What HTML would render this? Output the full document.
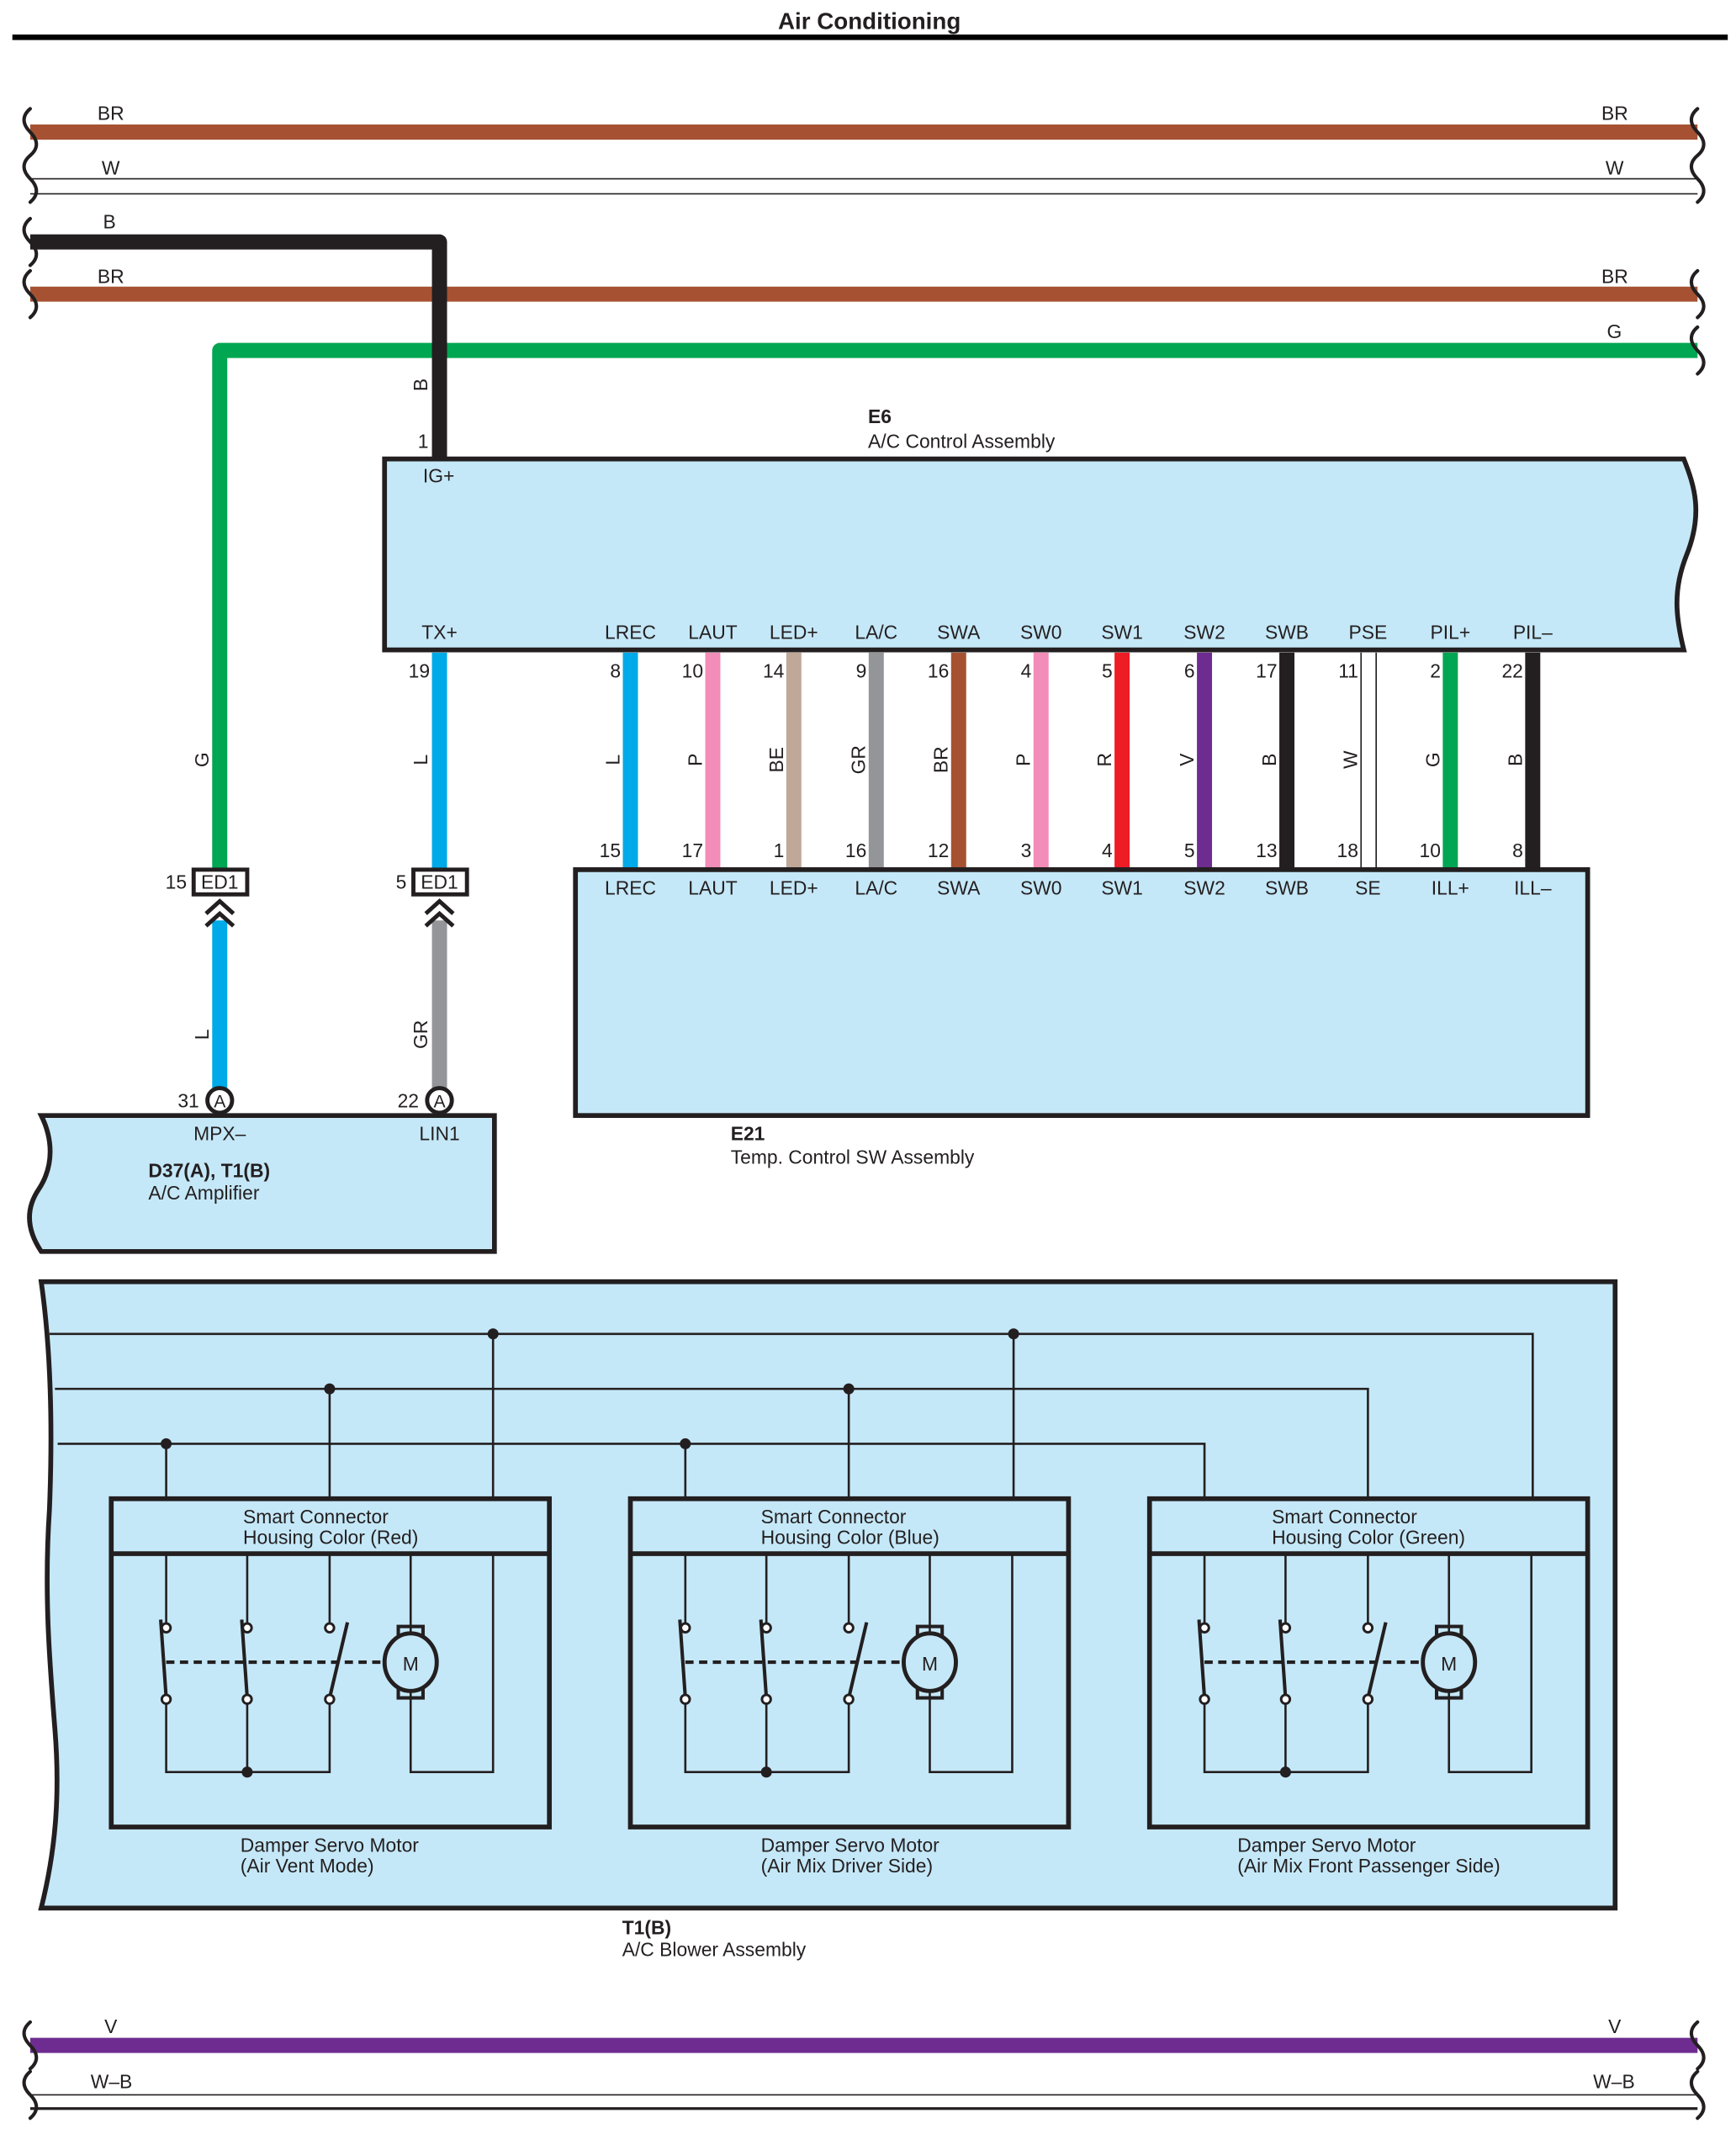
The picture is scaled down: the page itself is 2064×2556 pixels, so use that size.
<!DOCTYPE html>
<html><head><meta charset="utf-8"><style>
html,body{margin:0;padding:0;background:#fff}
svg{display:block}
text{font-family:"Liberation Sans",sans-serif;font-size:14px;fill:#231f20}
.b{font-weight:bold}
</style></head><body>
<svg width="2064" height="2556" viewBox="0 0 1264 1565" xmlns="http://www.w3.org/2000/svg">
<defs>
<g id="brk"><path d="M0,-17 c-6,5 -6,11 0,17 c6,6 6,12 0,17" fill="none" stroke="#231f20" stroke-width="2.5" stroke-linecap="round"/></g>
<g id="mot" fill="none" stroke="#231f20">
 <rect x="81" y="1091" width="319" height="239" stroke-width="3.5"/>
 <line x1="81" y1="1131" x2="400" y2="1131" stroke-width="3.5"/>
 <g stroke-width="1.6">
  <path d="M121,1131V1185M180,1131V1185M240,1131V1185M299,1131V1192M359,1131V1290H299V1229"/>
  <path d="M121,1237V1290H240V1237M180,1237V1290"/>
 </g>
 <g stroke-width="2.5">
  <line x1="117" y1="1179" x2="121" y2="1236"/>
  <line x1="176" y1="1179" x2="180" y2="1236"/>
  <line x1="253" y1="1181" x2="240" y2="1236"/>
 </g>
 <line x1="121" y1="1210" x2="280" y2="1210" stroke-width="2.5" stroke-dasharray="6,4"/>
 <g stroke-width="1.8" fill="#fff">
  <circle cx="121" cy="1185" r="3.2"/><circle cx="180" cy="1185" r="3.2"/><circle cx="240" cy="1185" r="3.2"/>
  <circle cx="121" cy="1237" r="3.2"/><circle cx="180" cy="1237" r="3.2"/><circle cx="240" cy="1237" r="3.2"/>
 </g>
 <rect x="290" y="1184" width="18" height="52" stroke-width="2.5"/>
 <ellipse cx="299" cy="1210" rx="19" ry="21" fill="#c5e8f8" stroke-width="3"/>
 <circle cx="180" cy="1290" r="4" fill="#231f20" stroke="none"/>
 <text x="299" y="1216" text-anchor="middle" stroke="none" fill="#231f20">M</text>
</g>
</defs>

<text x="633" y="21" text-anchor="middle" class="b" style="font-size:17px">Air Conditioning</text>
<rect x="9" y="25" width="1249" height="4" fill="#000"/>

<!-- top harness -->
<line x1="22" y1="96" x2="1236" y2="96" stroke="#a65232" stroke-width="11"/>
<line x1="22" y1="130" x2="1236" y2="130" stroke="#231f20" stroke-width="1"/>
<line x1="22" y1="141" x2="1236" y2="141" stroke="#231f20" stroke-width="1"/>
<line x1="22" y1="214" x2="1236" y2="214" stroke="#a65232" stroke-width="11"/>
<path d="M1236,255H160V633" fill="none" stroke="#00a651" stroke-width="11" stroke-linejoin="round"/>
<path d="M22,176H320V334" fill="none" stroke="#231f20" stroke-width="11" stroke-linejoin="round"/>
<use href="#brk" x="22" y="96"/><use href="#brk" x="22" y="130"/><use href="#brk" x="22" y="176"/><use href="#brk" x="22" y="214"/>
<use href="#brk" x="1236" y="96"/><use href="#brk" x="1236" y="130"/><use href="#brk" x="1236" y="214"/><use href="#brk" x="1236" y="255"/>
<text x="71" y="87">BR</text><text x="74" y="127">W</text><text x="75" y="166">B</text><text x="71" y="206">BR</text>
<text x="1166" y="87">BR</text><text x="1169" y="127">W</text><text x="1166" y="206">BR</text><text x="1170" y="246">G</text>
<text transform="translate(311,280) rotate(-90)" text-anchor="middle">B</text>
<text x="312" y="326" text-anchor="end">1</text>
<text transform="translate(152,553) rotate(-90)" text-anchor="middle">G</text>

<!-- E6 -->
<text x="632" y="308" class="b">E6</text>
<text x="632" y="326">A/C Control Assembly</text>
<path d="M280,334H1226c8,20 14,40 2,70c-10,25 -8,45 -2,69H280Z" fill="#c5e8f8" stroke="#231f20" stroke-width="3.5"/>
<text x="308" y="351">IG+</text>
<text x="320" y="465" text-anchor="middle">TX+</text>

<!-- TX wire -->
<line x1="320" y1="475" x2="320" y2="633" stroke="#00a9e8" stroke-width="11"/>
<text x="313" y="493" text-anchor="end">19</text>
<text transform="translate(311,553) rotate(-90)" text-anchor="middle">L</text>

<!-- pins -->
<g text-anchor="middle">
<text x="459" y="465">LREC</text><text x="519" y="465">LAUT</text><text x="578" y="465">LED+</text><text x="638" y="465">LA/C</text><text x="698" y="465">SWA</text><text x="758" y="465">SW0</text><text x="817" y="465">SW1</text><text x="877" y="465">SW2</text><text x="937" y="465">SWB</text><text x="996" y="465">PSE</text><text x="1056" y="465">PIL+</text><text x="1116" y="465">PIL–</text>
</g>
<g stroke-width="11">
<line x1="459" y1="475" x2="459" y2="633" stroke="#00a9e8"/>
<line x1="519" y1="475" x2="519" y2="633" stroke="#f28cb8"/>
<line x1="578" y1="475" x2="578" y2="633" stroke="#bfa898"/>
<line x1="638" y1="475" x2="638" y2="633" stroke="#939598"/>
<line x1="698" y1="475" x2="698" y2="633" stroke="#a65232"/>
<line x1="758" y1="475" x2="758" y2="633" stroke="#f28cb8"/>
<line x1="817" y1="475" x2="817" y2="633" stroke="#ee1c25"/>
<line x1="877" y1="475" x2="877" y2="633" stroke="#6e2c91"/>
<line x1="937" y1="475" x2="937" y2="633" stroke="#231f20"/>
<line x1="1056" y1="475" x2="1056" y2="633" stroke="#00a651"/>
<line x1="1116" y1="475" x2="1116" y2="633" stroke="#231f20"/>
</g>
<line x1="991" y1="475" x2="991" y2="633" stroke="#231f20" stroke-width="1"/>
<line x1="1002" y1="475" x2="1002" y2="633" stroke="#231f20" stroke-width="1"/>
<g text-anchor="end">
<text x="452" y="493">8</text><text x="512" y="493">10</text><text x="571" y="493">14</text><text x="631" y="493">9</text><text x="691" y="493">16</text><text x="751" y="493">4</text><text x="810" y="493">5</text><text x="870" y="493">6</text><text x="930" y="493">17</text><text x="989" y="493">11</text><text x="1049" y="493">2</text><text x="1109" y="493">22</text>
<text x="452" y="624">15</text><text x="512" y="624">17</text><text x="571" y="624">1</text><text x="631" y="624">16</text><text x="691" y="624">12</text><text x="751" y="624">3</text><text x="810" y="624">4</text><text x="870" y="624">5</text><text x="930" y="624">13</text><text x="989" y="624">18</text><text x="1049" y="624">10</text><text x="1109" y="624">8</text>
</g>
<g text-anchor="middle">
<text transform="translate(451,553) rotate(-90)">L</text>
<text transform="translate(511,553) rotate(-90)">P</text>
<text transform="translate(570,553) rotate(-90)">BE</text>
<text transform="translate(630,553) rotate(-90)">GR</text>
<text transform="translate(690,553) rotate(-90)">BR</text>
<text transform="translate(750,553) rotate(-90)">P</text>
<text transform="translate(809,553) rotate(-90)">R</text>
<text transform="translate(869,553) rotate(-90)">V</text>
<text transform="translate(929,553) rotate(-90)">B</text>
<text transform="translate(988,553) rotate(-90)">W</text>
<text transform="translate(1048,553) rotate(-90)">G</text>
<text transform="translate(1108,553) rotate(-90)">B</text>
</g>

<!-- E21 -->
<rect x="419" y="633" width="737" height="179" fill="#c5e8f8" stroke="#231f20" stroke-width="3.5"/>
<g text-anchor="middle">
<text x="459" y="651">LREC</text><text x="519" y="651">LAUT</text><text x="578" y="651">LED+</text><text x="638" y="651">LA/C</text><text x="698" y="651">SWA</text><text x="758" y="651">SW0</text><text x="817" y="651">SW1</text><text x="877" y="651">SW2</text><text x="937" y="651">SWB</text><text x="996" y="651">SE</text><text x="1056" y="651">ILL+</text><text x="1116" y="651">ILL–</text>
</g>
<text x="532" y="830" class="b">E21</text>
<text x="532" y="847">Temp.  Control SW Assembly</text>

<!-- ED1 connectors -->
<g>
<line x1="160" y1="670" x2="160" y2="792" stroke="#00a9e8" stroke-width="11"/>
<line x1="320" y1="670" x2="320" y2="792" stroke="#939598" stroke-width="11"/>
<rect x="141" y="633" width="39" height="18" fill="#fff" stroke="#231f20" stroke-width="3"/>
<rect x="301" y="633" width="39" height="18" fill="#fff" stroke="#231f20" stroke-width="3"/>
<text x="160" y="647" text-anchor="middle">ED1</text><text x="320" y="647" text-anchor="middle">ED1</text>
<text x="136" y="647" text-anchor="end">15</text><text x="296" y="647" text-anchor="end">5</text>
<path d="M150,665l10,-9l10,9M150,674l10,-9l10,9M310,665l10,-9l10,9M310,674l10,-9l10,9" fill="none" stroke="#231f20" stroke-width="3"/>
<text transform="translate(152,753) rotate(-90)" text-anchor="middle">L</text>
<text transform="translate(311,753) rotate(-90)" text-anchor="middle">GR</text>
</g>

<!-- Amplifier -->
<path d="M30,812H360V911H30c-10,-15 -12,-30 -2,-45c12,-18 10,-38 2,-54Z" fill="#c5e8f8" stroke="#231f20" stroke-width="3.5"/>
<circle cx="160" cy="801" r="9" fill="#fff" stroke="#231f20" stroke-width="3"/>
<circle cx="320" cy="801" r="9" fill="#fff" stroke="#231f20" stroke-width="3"/>
<text x="160" y="806" text-anchor="middle" style="font-size:13px">A</text>
<text x="320" y="806" text-anchor="middle" style="font-size:13px">A</text>
<text x="145" y="806" text-anchor="end">31</text><text x="305" y="806" text-anchor="end">22</text>
<text x="160" y="830" text-anchor="middle">MPX–</text><text x="320" y="830" text-anchor="middle">LIN1</text>
<text x="108" y="857" class="b">D37(A), T1(B)</text>
<text x="108" y="873">A/C Amplifier</text>

<!-- T1 blower -->
<path d="M30,933H1176V1389H30c10,-40 14,-80 10,-130c-4,-50 -8,-100 -4,-160c2,-50 2,-110 -6,-166Z" fill="#c5e8f8" stroke="#231f20" stroke-width="3.5"/>
<g fill="none" stroke="#231f20" stroke-width="1.6">
<path d="M36,971H1116V1091"/>
<path d="M40,1011H996V1091"/>
<path d="M42,1051H877V1091"/>
<path d="M121,1051V1091M240,1011V1091M359,971V1091M499,1051V1091M618,1011V1091M738,971V1091"/>
</g>
<g fill="#231f20">
<circle cx="359" cy="971" r="4"/><circle cx="738" cy="971" r="4"/>
<circle cx="240" cy="1011" r="4"/><circle cx="618" cy="1011" r="4"/>
<circle cx="121" cy="1051" r="4"/><circle cx="499" cy="1051" r="4"/>
</g>
<use href="#mot"/>
<use href="#mot" x="378"/>
<use href="#mot" x="756"/>
<text x="177" y="1109">Smart Connector</text><text x="177" y="1124">Housing Color (Red)</text>
<text x="554" y="1109">Smart Connector</text><text x="554" y="1124">Housing Color (Blue)</text>
<text x="926" y="1109">Smart Connector</text><text x="926" y="1124">Housing Color (Green)</text>
<text x="175" y="1348">Damper Servo Motor</text><text x="175" y="1363">(Air Vent Mode)</text>
<text x="554" y="1348">Damper Servo Motor</text><text x="554" y="1363">(Air Mix Driver Side)</text>
<text x="901" y="1348">Damper Servo Motor</text><text x="901" y="1363">(Air Mix Front Passenger Side)</text>
<text x="453" y="1408" class="b">T1(B)</text>
<text x="453" y="1424">A/C Blower Assembly</text>

<!-- bottom harness -->
<line x1="22" y1="1489" x2="1236" y2="1489" stroke="#6e2c91" stroke-width="11"/>
<line x1="22" y1="1525" x2="1236" y2="1525" stroke="#231f20" stroke-width="1"/>
<line x1="22" y1="1535" x2="1236" y2="1535" stroke="#231f20" stroke-width="2"/>
<use href="#brk" x="22" y="1489"/><use href="#brk" x="22" y="1525"/>
<use href="#brk" x="1236" y="1489"/><use href="#brk" x="1236" y="1525"/>
<text x="76" y="1480">V</text><text x="1171" y="1480">V</text>
<text x="66" y="1520">W–B</text><text x="1160" y="1520">W–B</text>
</svg>
</body></html>
